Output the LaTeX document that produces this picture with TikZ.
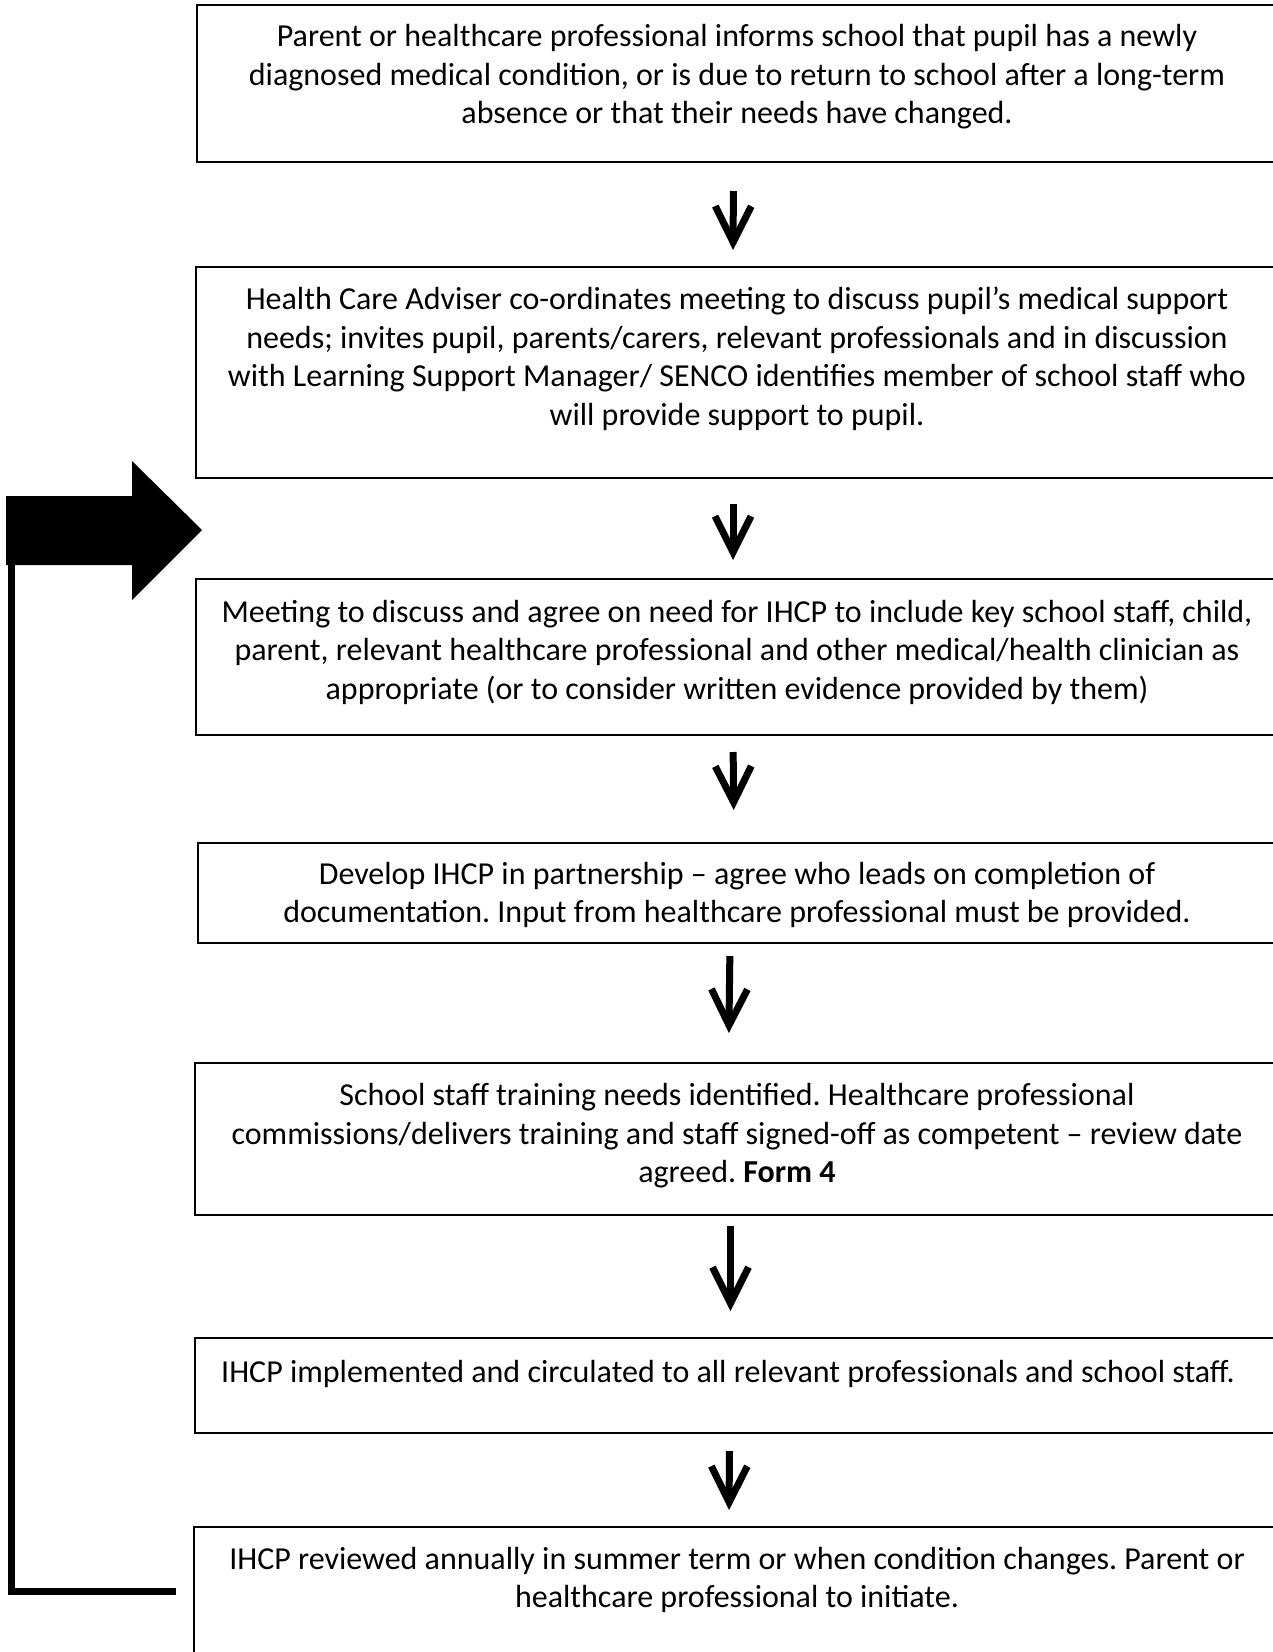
\documentclass[tikz,border=0pt]{standalone}
\usepackage{fontspec}
\setmainfont{Carlito}
\usetikzlibrary{arrows.meta}
\frenchspacing
\begin{document}
\begin{tikzpicture}[x=1pt,y=-1pt,
  box/.style={draw, line width=2pt, inner sep=0pt},
  txt/.style={align=center, inner sep=0pt, font=\fontsize{32}{38.5}\selectfont},
  arr/.style={line width=7pt, -{Straight Barb[length=36pt,width=36pt]}},
  fbline/.style={line width=7pt}]
\useasboundingbox (0,0) rectangle (1273,1652);
\clip (0,0) rectangle (1273,1652);

% boxes
\node[box, minimum width=1083pt, minimum height=157pt] (b1) at (738.5,83.5) {};
\node[box, minimum width=1084pt, minimum height=211pt] (b2) at (738,372.5) {};
\node[box, minimum width=1084pt, minimum height=156pt] (b3) at (738,657) {};
\node[box, minimum width=1082pt, minimum height=100pt] (b4) at (739,893) {};
\node[box, minimum width=1085pt, minimum height=152pt] (b5) at (737.5,1139) {};
\node[box, minimum width=1085pt, minimum height=95pt] (b6) at (737.5,1385.5) {};
\node[box, minimum width=1086pt, minimum height=128pt] (b7) at (737,1591) {};

% texts
\node[txt] (t1) at (737,77) {Parent or healthcare professional informs school that pupil has a newly\\diagnosed medical condition, or is due to return to school after a long-term\\absence or that their needs have changed.};
\node[txt] (t2) at (737,359) {Health Care Adviser co-ordinates meeting to discuss pupil’s medical support\\needs; invites pupil, parents/carers, relevant professionals and in discussion\\with Learning Support Manager/ SENCO identifies member of school staff who\\will provide support to pupil.};
\node[txt] (t3) at (737,652) {Meeting to discuss and agree on need for IHCP to include key school staff, child,\\parent, relevant healthcare professional and other medical/health clinician as\\appropriate (or to consider written evidence provided by them)};
\node[txt] (t4) at (737,895) {Develop IHCP in partnership – agree who leads on completion of\\documentation. Input from healthcare professional must be provided.};
\node[txt] (t5) at (737,1136) {School staff training needs identified. Healthcare professional\\commissions/delivers training and staff signed-off as competent – review date\\agreed. \textbf{Form 4}};
\node[txt] (t6) at (728,1373.5) {IHCP implemented and circulated to all relevant professionals and school staff.};
\node[txt] (t7) at (737,1580) {IHCP reviewed annually in summer term or when condition changes. Parent or\\healthcare professional to initiate.};

% down arrows
\draw[arr, shorten <=28pt, shorten >=16pt] ([xshift=-5pt]b1.south) -- ([xshift=-5pt]b2.north);
\draw[arr, shorten <=25pt, shorten >=18pt] ([xshift=-5pt]b2.south) -- ([xshift=-5pt]b3.north);
\draw[arr, shorten <=16pt, shorten >=32pt] ([xshift=-5pt]b3.south) -- ([xshift=-5pt]b4.north);
\draw[arr, shorten <=12pt, shorten >=29pt] ([xshift=-9pt]b4.south) -- ([xshift=-9pt]b5.north);
\draw[arr, shorten <=10pt, shorten >=26pt] ([xshift=-7pt]b5.south) -- ([xshift=-7pt]b6.north);
\draw[arr, shorten <=17pt, shorten >=16pt] ([xshift=-8pt]b6.south) -- ([xshift=-8pt]b7.north);

% big feedback arrow
\fill (6,496) -- (132,496) -- (132,461) -- (202,530) -- (132,600) -- (132,565) -- (6,565) -- cycle;
\coordinate (fb) at (11,565);
\draw[fbline] ([xshift=-17pt]b7.west) -| (fb);
\end{tikzpicture}
\end{document}
